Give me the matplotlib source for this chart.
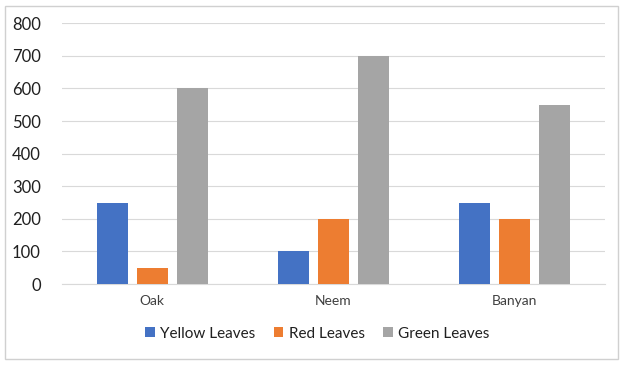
import numpy as np
import matplotlib.pyplot as plt
from matplotlib.patches import Rectangle

trees = ['Oak', 'Neem', 'Banyan']
yellow = [250, 100, 250]
red = [50, 200, 200]
green = [600, 700, 550]
series = ['Yellow Leaves', 'Red Leaves', 'Green Leaves']
colors = ['#4472C4', '#ED7D31', '#A5A5A5']

plt.rcParams['font.family'] = ['Lato', 'DejaVu Sans']

fig = plt.figure(figsize=(6.24, 3.68), dpi=100)
ax = fig.add_axes([0.099, 0.228, 0.871, 0.709])

x = np.arange(len(trees))
w = 0.171
step = 0.221
for i, (vals, lab, c) in enumerate(zip([yellow, red, green], series, colors)):
    ax.bar(x + (i - 1) * step, vals, width=w, color=c, label=lab, zorder=3)

ax.set_xlim(-0.5, 2.5)
ax.set_ylim(0, 800)
ax.set_yticks(range(0, 801, 100))
ax.set_xticks(x)
ax.set_xticklabels(trees, fontsize=10, color='#404040')
ax.tick_params(axis='y', labelsize=12, colors='#202020', length=0, pad=15)
ax.tick_params(axis='x', length=0, pad=8)
ax.grid(axis='y', color='#D9D9D9', linewidth=0.8, zorder=0)
for s in ['top', 'right', 'left']:
    ax.spines[s].set_visible(False)
ax.spines['bottom'].set_color('#D9D9D9')

leg = ax.legend(loc='center', bbox_to_anchor=(0.47, -0.19), ncol=3, frameon=False,
                fontsize=11, handlelength=0.65, handleheight=0.65,
                handletextpad=0.35, columnspacing=1.2)
for t in leg.get_texts():
    t.set_color('#202020')

fig.patches.append(Rectangle((0.008, 0.025), 0.982, 0.96, transform=fig.transFigure,
                             fill=False, edgecolor='#D0D0D0', linewidth=1))

fig.savefig('out.png', dpi=100)
